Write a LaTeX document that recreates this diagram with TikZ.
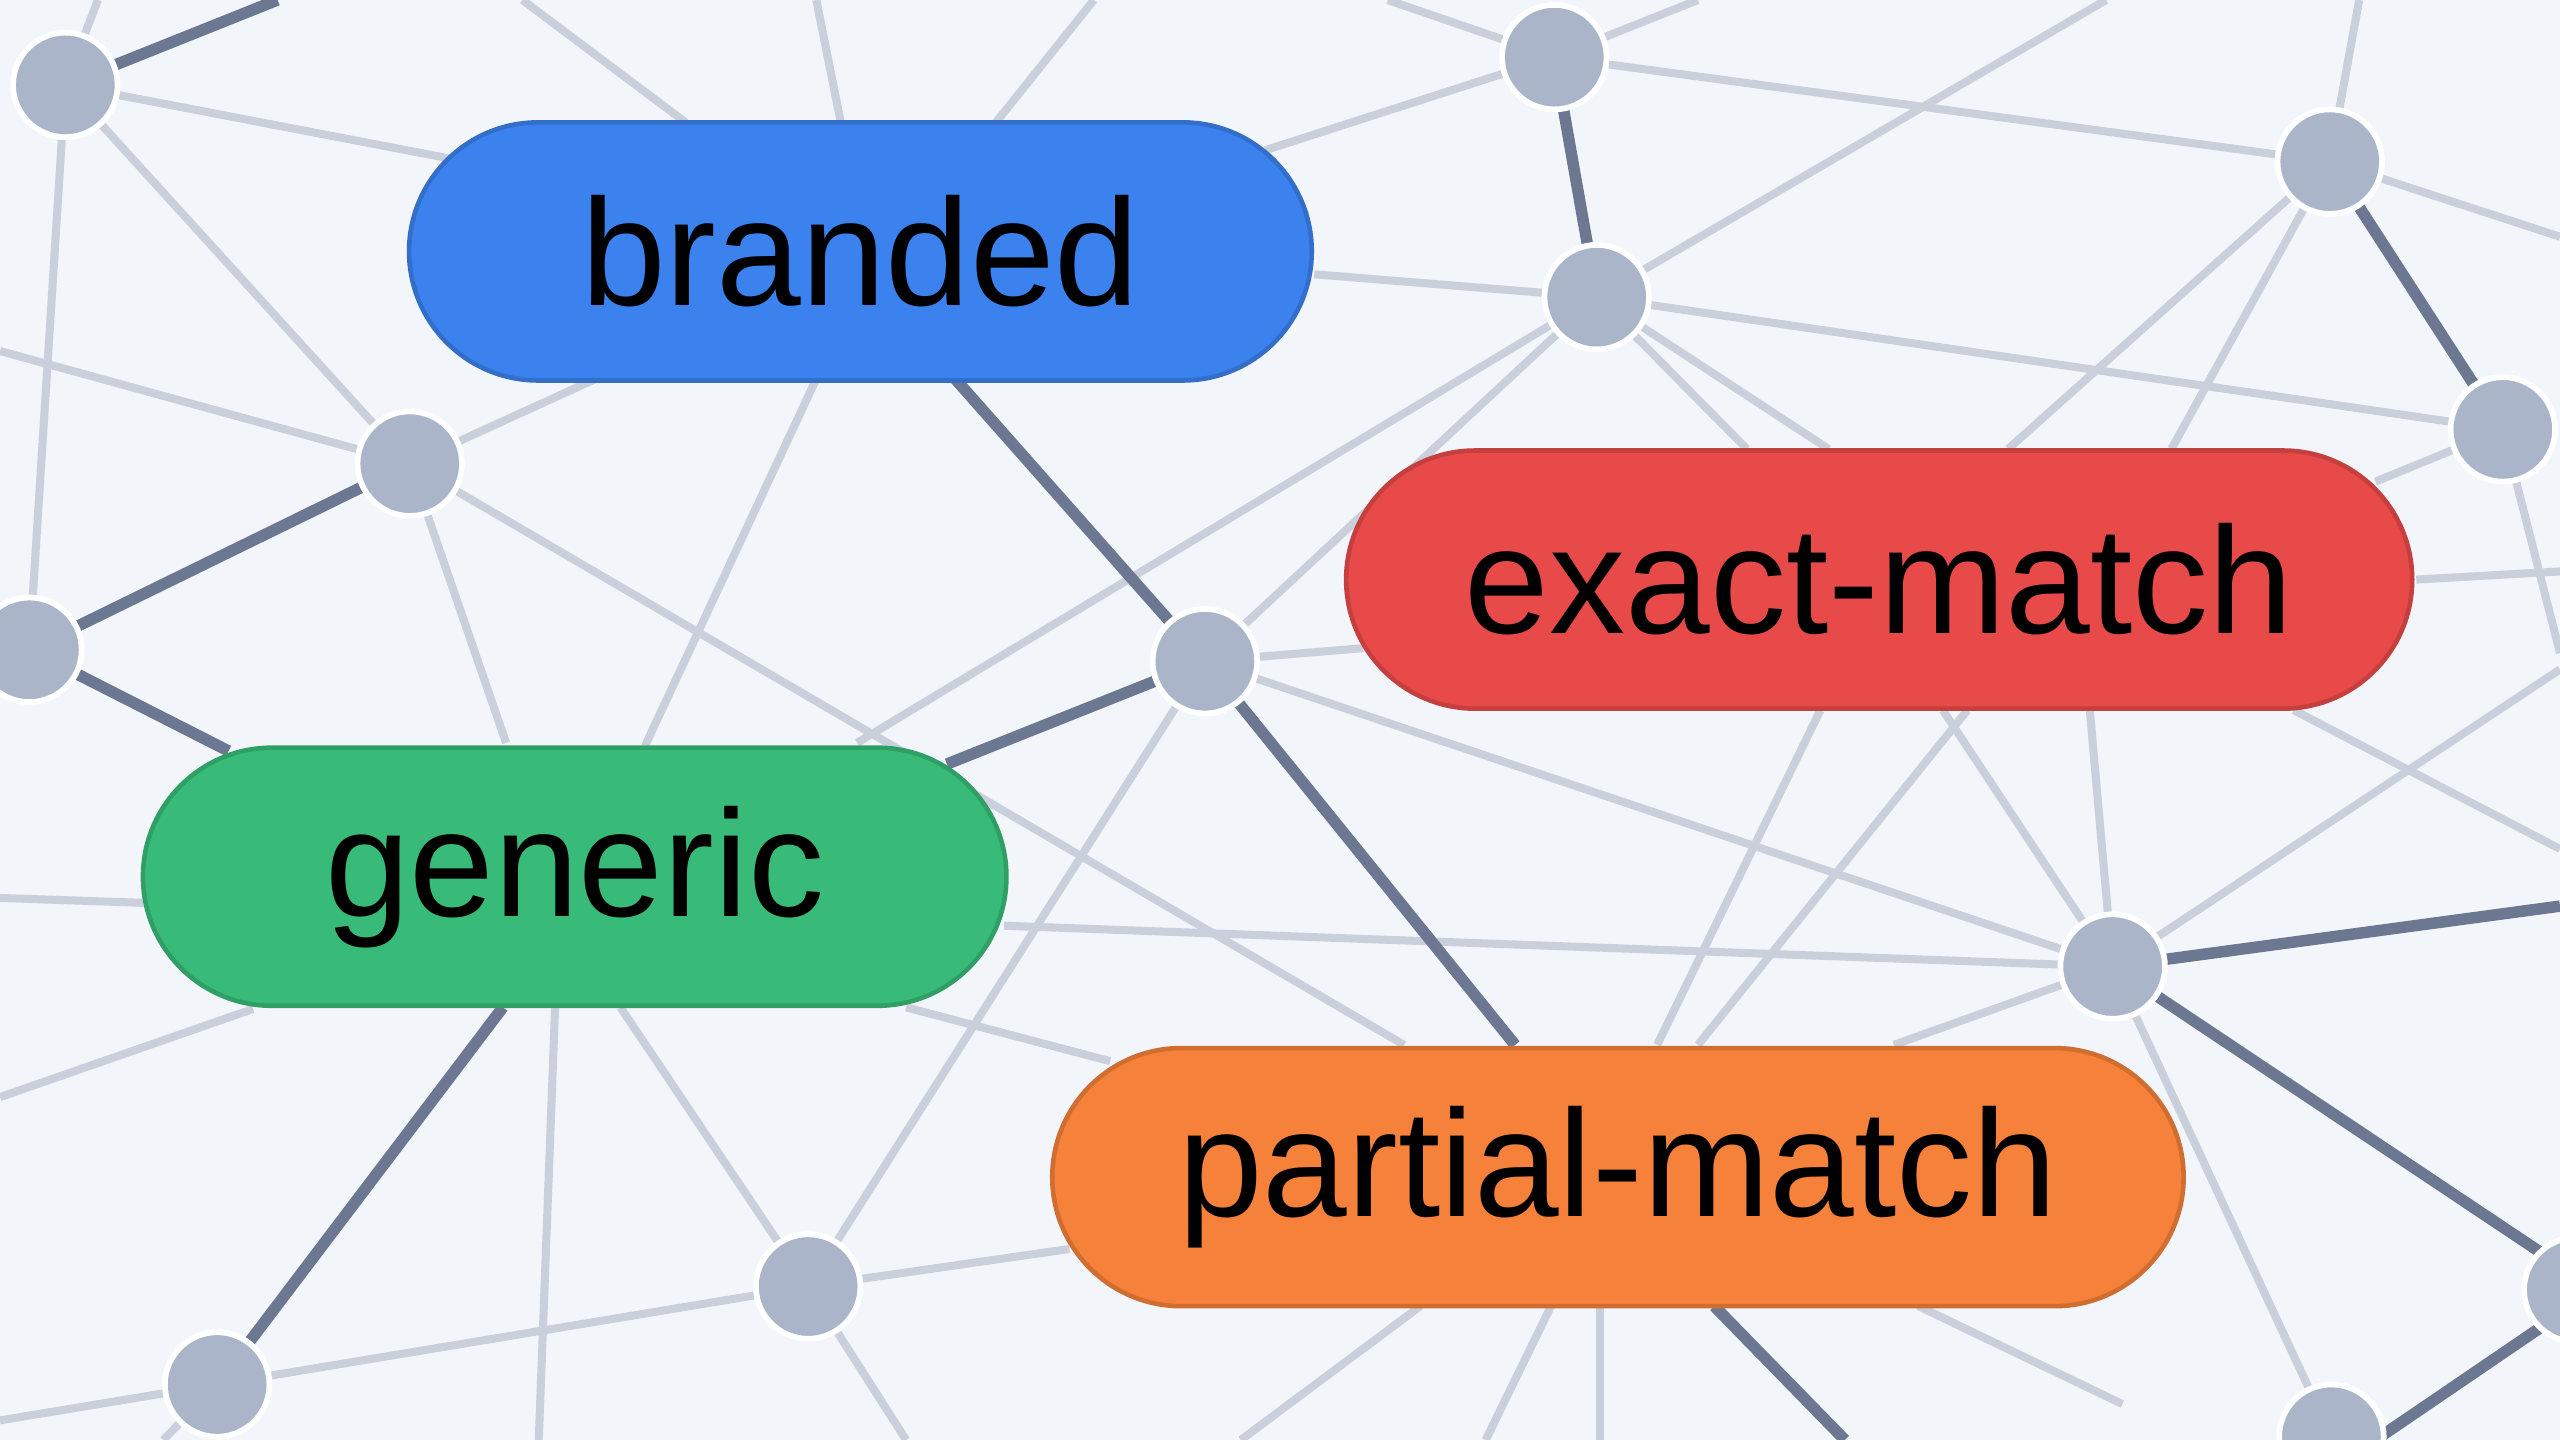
\documentclass[tikz,border=0pt]{standalone}
\usepackage{fontspec}
\setmainfont{Liberation Sans}
\usetikzlibrary{calc,shapes.misc}
\definecolor{bgc}{HTML}{F2F5FA}
\definecolor{lite}{HTML}{C9D0DC}
\definecolor{dark}{HTML}{6C7891}
\definecolor{dotc}{HTML}{AAB5C9}
\definecolor{pblue}{HTML}{3B82EE}
\definecolor{pred}{HTML}{E84A4A}
\definecolor{pgreen}{HTML}{38BB78}
\definecolor{porange}{HTML}{F5813A}
\tikzset{
  lite/.style={draw=lite,line width=1.4pt},
  dark/.style={draw=dark,line width=2pt},
  dot/.style={circle,fill=dotc,draw=white,line width=1pt,minimum size=0.64cm,inner sep=0pt},
  pill/.style={rounded rectangle,draw=#1!85!black,line width=0.8pt,fill=#1,minimum height=1.58cm,
    font=\fontsize{26.5}{32}\selectfont,text=black}
}
\begin{document}
\begin{tikzpicture}[x=0.01cm,y=-0.01cm]
  \fill[bgc] (0,0) rectangle (1568,882);
  \useasboundingbox (0,0) rectangle (1568,882);
  \clip (0,0) rectangle (1568,882);
  % dots (positions only)
  \foreach \n/\x/\y in {a/40/52,b/952/35,c/1427/99,d/978/182,e/1533/263,f/251/284,
      g/18/398,h/738/405,i/1294/592,j/495/788,k/133/848,l/1428/880,m/1578/790}
    \coordinate (\n) at (\x,\y);
  % light lines
  \foreach \p/\q in {{0,215}/f,f/{860,640},f/{310,455},f/{365,232},a/{275,97},a/f,a/g,
      {320,0}/{420,75},{500,0}/{515,75},{670,0}/{610,75},b/{775,92},b/{850,0},b/{1040,0},b/c,
      d/{805,168},d/e,d/{1120,275},d/{1070,275},d/{525,455},d/h,{1290,0}/d,c/{1568,145},
      c/{1230,275},c/{1330,275},c/{1445,0},e/{1455,295},e/{1568,400},h/{835,397},h/i,h/j,
      {500,232}/{395,457},{1115,435}/{1015,640},i/{1190,435},i/{1280,435},i/{1568,410},
      {1405,435}/{1568,520},i/{615,567},i/{1160,640},i/l,{1205,435}/{1040,640},j/k,j/{655,765},
      j/{380,617},j/{555,882},k/{0,870},k/{100,882},{340,617}/{330,882},{0,550}/{88,553},
      {0,672}/{155,618},{555,617}/{680,650},{1480,355}/{1568,350},{870,800}/{760,882},
      {950,800}/{910,882},{980,800}/{980,882},{1175,800}/{1300,860},{60,0}/a}
    \draw[lite] (\p) -- (\q);
  % dark lines
  \foreach \p/\q in {a/{170,0},f/g,g/{140,460},{585,232}/h,h/{928,640},h/{580,468},
      k/{308,617},i/{1568,555},i/{1568,775},c/e,{1050,800}/{1130,882},{1455,882}/{1568,805},d/b}
    \draw[dark] (\p) -- (\q);
  % pills
  \node[pill=pblue,minimum width=5.76cm] (branded) at (527,154) {branded};
  \node[pill=pred,minimum width=6.76cm] (exact) at (1151,355) {exact-match};
  \node[pill=pgreen,minimum width=5.52cm] (generic) at (352,537) {generic};
  \node[pill=porange,minimum width=7.16cm] (partial) at (991,721) {partial-match};
  \foreach \n in {a,b,c,d,e,f,g,h,i,j,k,l,m}
    \node[dot] (\n dot) at (\n) {};
\end{tikzpicture}
\end{document}
